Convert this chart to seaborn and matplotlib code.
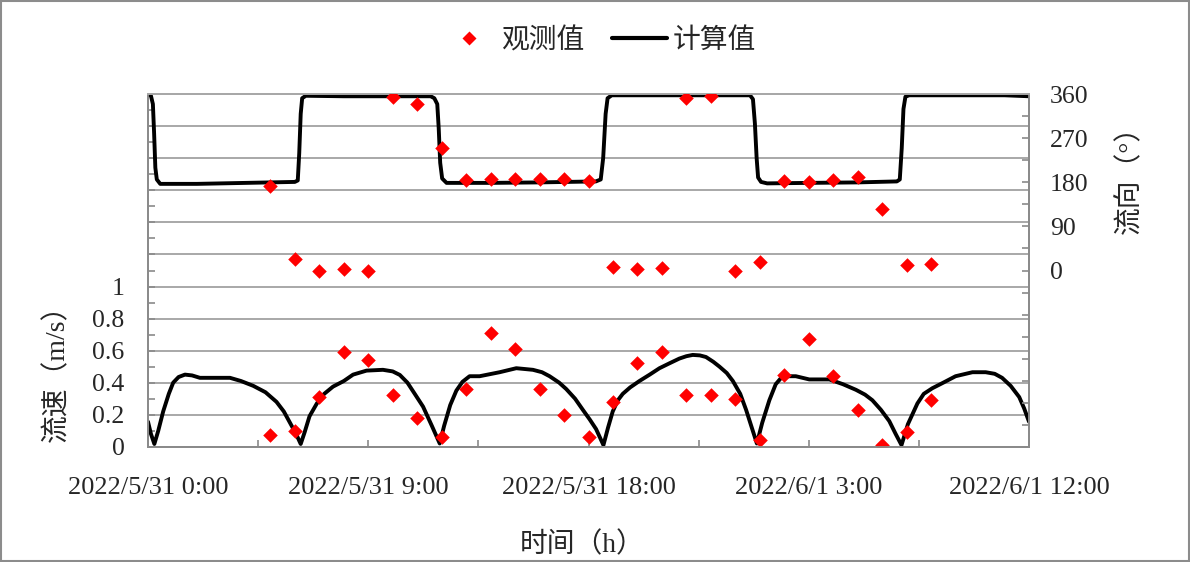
import matplotlib
matplotlib.use('Agg')
import matplotlib.pyplot as plt
from matplotlib.lines import Line2D
from matplotlib.patches import Rectangle
from matplotlib.ticker import MultipleLocator, FuncFormatter
import seaborn as sns

########
# Data #
########
# Observation hours (hours after 2022/5/31 0:00)
obs_hours = list(range(5, 33))
# Observed speed (m/s)
obs_speed = [0.07, 0.10, 0.31, 0.59, 0.54, 0.32, 0.18, 0.06, 0.36, 0.71,
             0.61, 0.36, 0.20, 0.06, 0.28, 0.52, 0.59, 0.32, 0.32, 0.30,
             0.04, 0.45, 0.67, 0.44, 0.23, 0.01, 0.09, 0.29]
# Observed direction (deg)
obs_dir = [173, 23, 0, 3, 0, 355, 340, 250, 185, 186,
           186, 186, 187, 183, 8, 3, 5, 352, 357, 0,
           17, 183, 180, 185, 192, 126, 12, 13]

# Computed speed
calc_speed_hours = [0.0, 0.12, 0.26, 0.42, 0.62, 0.85, 1.03, 1.25, 1.51, 1.8,
                    2.12, 2.7, 3.35, 3.8, 4.3, 4.8, 5.25, 5.55, 5.8, 6.05,
                    6.24, 6.4, 6.6, 6.9, 7.2, 7.56, 8.0, 8.38, 8.93, 9.6,
                    10.0, 10.29, 10.6, 10.9, 11.24, 11.6, 11.92, 12.1, 12.35, 12.6,
                    12.85, 13.14, 13.55, 14.37, 15.05, 15.73, 16.1, 16.41, 16.8, 17.09,
                    17.45, 17.77, 18.05, 18.31, 18.61, 18.8, 18.99, 19.2, 19.4, 19.7,
                    20.08, 20.5, 20.9, 21.3, 21.71, 22.0, 22.26, 22.55, 22.8, 23.1,
                    23.35, 23.65, 23.9, 24.2, 24.44, 24.88, 25.1, 25.39, 25.65, 25.93,
                    26.47, 27.02, 27.84, 28.4, 28.93, 29.3, 29.6, 29.95, 30.29, 30.55,
                    30.79, 31.05, 31.44, 31.7, 32.05, 32.5, 33.0, 33.69, 34.23, 34.6,
                    34.9, 35.25, 35.6, 35.8, 36.0]
calc_speed = [0.156, 0.08, 0.017, 0.10, 0.22, 0.33, 0.40, 0.435, 0.45, 0.445,
              0.43, 0.43, 0.43, 0.41, 0.38, 0.34, 0.28, 0.22, 0.15, 0.08,
              0.017, 0.09, 0.19, 0.27, 0.33, 0.375, 0.41, 0.45, 0.475, 0.48,
              0.47, 0.448, 0.40, 0.33, 0.25, 0.13, 0.02, 0.13, 0.26, 0.35,
              0.405, 0.44, 0.44, 0.465, 0.49, 0.48, 0.465, 0.44, 0.40, 0.36,
              0.30, 0.23, 0.17, 0.11, 0.01, 0.12, 0.22, 0.29, 0.33, 0.37,
              0.41, 0.45, 0.49, 0.52, 0.55, 0.565, 0.573, 0.57, 0.56, 0.53,
              0.50, 0.46, 0.41, 0.33, 0.23, 0.02, 0.15, 0.29, 0.39, 0.44,
              0.44, 0.42, 0.42, 0.39, 0.355, 0.325, 0.29, 0.23, 0.16, 0.08,
              0.01, 0.14, 0.27, 0.33, 0.365, 0.40, 0.44, 0.465, 0.465, 0.455,
              0.43, 0.38, 0.31, 0.24, 0.156]

# Computed direction
calc_dir_hours = [0.0, 0.12, 0.2, 0.25, 0.3, 0.36, 0.5, 2.0, 4.0, 6.0,
                  6.12, 6.18, 6.24, 6.3, 6.45, 8.0, 10.0, 11.55, 11.7, 11.82,
                  11.88, 11.94, 12.02, 12.2, 14.0, 16.0, 18.3, 18.5, 18.6, 18.7,
                  18.78, 18.95, 21.0, 23.0, 24.6, 24.72, 24.8, 24.87, 24.93, 25.05,
                  25.3, 27.0, 29.0, 30.6, 30.72, 30.8, 30.87, 30.95, 31.1, 33.0,
                  35.0, 36.0]
calc_dir = [360, 357, 340, 280, 210, 186, 177, 177, 179, 181,
            184, 240, 320, 352, 357, 356, 356, 356, 352, 340,
            290, 220, 188, 179, 179, 180, 182, 186, 230, 320,
            352, 358, 358, 358, 358, 350, 300, 230, 190, 181,
            178, 179, 180, 182, 186, 250, 330, 355, 358, 358,
            358, 356]

# X tick labels
tick_hours = [0, 9, 18, 27, 36]
tick_labels = ['2022/5/31 0:00', '2022/5/31 9:00', '2022/5/31 18:00',
               '2022/6/1 3:00', '2022/6/1 12:00']

#########
# Style #
#########
sns.set_style('white')
plt.rcParams['font.family'] = ['Liberation Serif', 'Noto Sans CJK SC', 'DejaVu Sans']
axis_gray = '#8a8a8a'
grid_gray = '#a8a8a8'

fig = plt.figure(figsize=(11.9, 5.62), dpi=100)
ax = fig.add_axes([148 / 1190, 1 - 446.7 / 562, (1029 - 148) / 1190, (446.7 - 94.3) / 562])
ax2 = ax.twinx()

#########
# Plots #
#########
sns.lineplot(x=calc_speed_hours, y=calc_speed, ax=ax, color='black', lw=2.8)
sns.scatterplot(x=obs_hours, y=obs_speed, ax=ax, marker='D', s=55,
                color='#ff0000', linewidth=0, zorder=3)
sns.lineplot(x=calc_dir_hours, y=calc_dir, ax=ax2, color='black', lw=2.8)
sns.scatterplot(x=obs_hours, y=obs_dir, ax=ax2, marker='D', s=55,
                color='#ff0000', linewidth=0, zorder=3)

# Left axis (speed)
ax.set_xlim(0, 36)
ax.set_ylim(0, 2.2)
ax.yaxis.set_major_locator(MultipleLocator(0.2))
ax.yaxis.set_minor_locator(MultipleLocator(0.1))
ax.yaxis.set_major_formatter(FuncFormatter(lambda v, p: f'{v:g}' if v <= 1.0001 else ''))
ax.grid(axis='y', color=grid_gray, lw=1.4)
ax.grid(axis='x', visible=False)
ax.set_xticks(tick_hours, tick_labels)
ax.xaxis.set_minor_locator(MultipleLocator(4.5))
ax.tick_params(axis='y', which='both', direction='in', length=5, width=1.2,
               color=axis_gray, labelsize=18.5, pad=17, left=True)
ax.tick_params(axis='x', which='both', direction='in', length=5, width=1.2,
               color=axis_gray, labelsize=19, pad=22, bottom=True)

# Right axis (direction)
ax2.set_ylim(-360, 360)
ax2.yaxis.set_major_locator(MultipleLocator(90))
ax2.yaxis.set_minor_locator(MultipleLocator(45))
ax2.yaxis.set_major_formatter(FuncFormatter(lambda v, p: f'{v:.0f}' if v >= 0 else ''))
ax2.tick_params(axis='y', which='both', direction='in', length=5, width=1.2,
                color=axis_gray, labelsize=18.5, pad=15, right=True)
ax2.grid(False)

for a in (ax, ax2):
    for side in ['left', 'right', 'bottom']:
        a.spines[side].set_color(axis_gray)
        a.spines[side].set_linewidth(1.3)
    a.spines['top'].set_color(grid_gray)
    a.spines['top'].set_linewidth(1.4)

# Axis labels
ax.set_ylabel('流速（m/s）', fontsize=20, va='center')
ax.yaxis.set_label_coords(-0.103, 0.227)
ax2.set_ylabel('流向（°）', fontsize=20, va='center', rotation=90)
ax2.yaxis.set_label_coords(1.115, 0.778)
ax.set_xlabel('时间（h）', fontsize=20, va='center')
ax.xaxis.set_label_coords(0.4926, -0.279)

# Legend
handles = [Line2D([], [], marker='D', ls='none', color='#ff0000', ms=7.4, mec='none'),
           Line2D([], [], color='black', lw=3)]
fig.legend(handles, ['观测值', '计算值'], loc='center', bbox_to_anchor=(0.503, 0.927),
           ncol=2, frameon=False, fontsize=20, handlelength=1.95,
           handletextpad=0.2, columnspacing=1.0)

# Outer frame
fig.patches.append(Rectangle((0.001, 0.001), 0.998, 0.997, transform=fig.transFigure,
                             fill=False, edgecolor='#8c8c8c', lw=1.5))

fig.savefig('out.png', dpi=100)
